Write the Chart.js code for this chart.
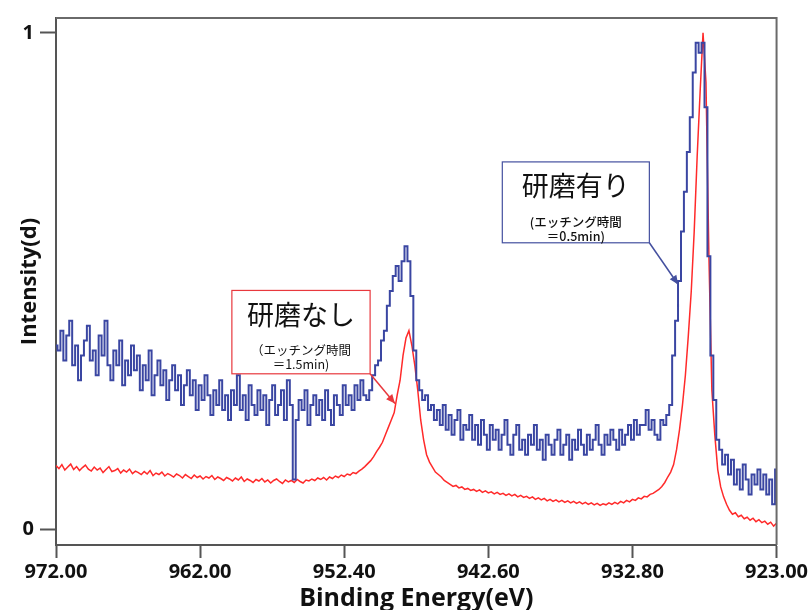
<!DOCTYPE html>
<html>
<head>
<meta charset="utf-8">
<script src="https://cdn.jsdelivr.net/npm/chart.js@4.4.1/dist/chart.umd.min.js"></script>
<style>
  html, body { margin: 0; padding: 0; background: #fff; overflow: hidden; }
  #wrap { width: 810px; height: 620px; }
</style>
</head>
<body>
<div id="wrap"><canvas id="c" width="810" height="620"></canvas></div>
<script>
// Energy grid of the scans (eV), from 972.0 down to 923.0
const START_EV = 972.0;
const STEP_EV = 0.2;

// Axis ticks
const tickPositions = [972.0, 962.2, 952.4, 942.6, 932.8, 923.0];
const tickLabels = ['972.00', '962.00', '952.40', '942.60', '932.80', '923.00'];
const intensityTicks = [0, 1];

// 研磨有り (etching 0.5 min), normalised intensity
const polished = [
  0.37,0.36,0.40,0.34,0.39,0.42,0.33,0.37,0.30,0.35,
  0.38,0.41,0.34,0.36,0.31,0.39,0.35,0.42,0.33,0.30,
  0.36,0.33,0.38,0.29,0.34,0.31,0.37,0.32,0.35,0.28,
  0.33,0.30,0.36,0.27,0.31,0.34,0.29,0.32,0.26,0.30,
  0.33,0.28,0.31,0.25,0.29,0.32,0.27,0.30,0.24,0.29,
  0.26,0.31,0.27,0.23,0.28,0.25,0.30,0.24,0.27,0.22,
  0.28,0.25,0.31,0.24,0.27,0.22,0.29,0.25,0.23,0.28,
  0.24,0.27,0.21,0.26,0.29,0.23,0.25,0.28,0.22,0.30,
  0.25,0.10,0.22,0.26,0.24,0.28,0.21,0.25,0.27,0.23,
  0.26,0.22,0.28,0.24,0.21,0.27,0.25,0.23,0.29,0.25,
  0.27,0.24,0.29,0.26,0.30,0.27,0.26,0.28,0.31,0.33,
  0.34,0.38,0.40,0.45,0.48,0.51,0.53,0.50,0.54,0.57,
  0.54,0.47,0.36,0.30,0.28,0.26,0.27,0.24,0.25,0.22,
  0.24,0.21,0.25,0.20,0.23,0.19,0.22,0.24,0.18,0.21,
  0.20,0.23,0.18,0.21,0.17,0.22,0.19,0.16,0.21,0.18,
  0.20,0.16,0.19,0.22,0.17,0.15,0.19,0.21,0.16,0.18,
  0.15,0.19,0.17,0.21,0.16,0.18,0.14,0.19,0.17,0.15,
  0.18,0.20,0.15,0.17,0.19,0.14,0.18,0.16,0.20,0.17,
  0.15,0.19,0.16,0.18,0.21,0.17,0.15,0.19,0.17,0.20,
  0.18,0.16,0.20,0.17,0.19,0.21,0.18,0.22,0.19,0.21,
  0.21,0.24,0.20,0.22,0.19,0.18,0.22,0.21,0.23,0.25,
  0.35,0.42,0.50,0.60,0.68,0.76,0.83,0.92,0.98,0.96,
  0.98,0.85,0.55,0.35,0.26,0.18,0.16,0.13,0.15,0.11,
  0.14,0.09,0.12,0.08,0.13,0.10,0.07,0.11,0.09,0.12,
  0.08,0.11,0.07,0.10,0.05,0.12
];

// 研磨なし (etching 1.5 min), normalised intensity
const unpolished = [
  0.128,0.122,0.130,0.119,0.125,0.131,0.120,0.126,0.118,0.124,
  0.129,0.121,0.117,0.125,0.119,0.123,0.114,0.120,0.126,0.116,
  0.118,0.122,0.113,0.119,0.115,0.121,0.112,0.117,0.114,0.110,
  0.116,0.111,0.118,0.108,0.113,0.110,0.115,0.107,0.112,0.109,
  0.105,0.111,0.108,0.103,0.110,0.106,0.102,0.109,0.104,0.107,
  0.101,0.106,0.103,0.108,0.100,0.105,0.102,0.098,0.104,0.101,
  0.097,0.103,0.099,0.105,0.096,0.101,0.098,0.094,0.100,0.097,
  0.102,0.095,0.099,0.093,0.098,0.101,0.096,0.092,0.099,0.095,
  0.098,0.094,0.100,0.096,0.093,0.099,0.097,0.101,0.098,0.103,
  0.100,0.104,0.099,0.105,0.102,0.107,0.104,0.109,0.106,0.111,
  0.109,0.114,0.112,0.117,0.121,0.126,0.132,0.138,0.146,0.156,
  0.165,0.175,0.190,0.205,0.220,0.235,0.270,0.300,0.350,0.385,
  0.400,0.370,0.330,0.280,0.220,0.180,0.150,0.135,0.125,0.115,
  0.110,0.105,0.098,0.094,0.090,0.086,0.088,0.083,0.085,0.080,
  0.082,0.078,0.080,0.076,0.079,0.074,0.077,0.073,0.075,0.071,
  0.074,0.070,0.072,0.068,0.071,0.067,0.070,0.065,0.068,0.064,
  0.066,0.062,0.065,0.060,0.063,0.059,0.062,0.057,0.060,0.056,
  0.059,0.055,0.058,0.054,0.057,0.053,0.056,0.052,0.055,0.051,
  0.054,0.050,0.053,0.049,0.052,0.048,0.051,0.049,0.053,0.050,
  0.054,0.051,0.056,0.053,0.058,0.055,0.060,0.058,0.063,0.061,
  0.066,0.065,0.070,0.072,0.076,0.080,0.086,0.094,0.105,0.115,
  0.130,0.160,0.200,0.250,0.310,0.390,0.480,0.600,0.750,0.880,
  1.000,0.900,0.550,0.280,0.190,0.120,0.085,0.065,0.050,0.038,
  0.030,0.033,0.025,0.028,0.021,0.024,0.018,0.022,0.015,0.019,
  0.013,0.016,0.010,0.014,0.006,0.012
];

const energies = polished.map((_, i) => +(START_EV - i * STEP_EV).toFixed(1));

// Callout boxes, anchored in data units (eV, intensity)
const callouts = [
  { title: '研磨なし', lines: ['（エッチング時間', '＝1.5min)'], color: '#e8383d',
    box: [960.04, 0.481, 950.64, 0.313], tip: [948.95, 0.253], subWeight: '400' },
  { title: '研磨有り', lines: ['(エッチング時間', '＝0.5min)'], color: '#44509f',
    box: [941.65, 0.740, 931.65, 0.577], tip: [929.69, 0.493], subWeight: '500' }
];

const CANVAS_H = 620;
const PLOT_LEFT = 56;
const PLOT_BOTTOM = 545;
const AXIS_COLOR = '#555';
const TEXT_COLOR = '#111';
const LATIN = '"Open Sans", "DejaVu Sans", sans-serif';
const CJK = '"Noto Sans CJK JP", "Noto Sans CJK SC", sans-serif';

const frameAndCallouts = {
  id: 'frameAndCallouts',
  afterDatasetsDraw(chart) {
    const { ctx, chartArea: a, scales: { x, y } } = chart;
    ctx.save();
    // top and right edges of the plot frame
    ctx.strokeStyle = '#6a6a6a';
    ctx.lineWidth = 2;
    ctx.beginPath();
    ctx.moveTo(a.left, a.top);
    ctx.lineTo(a.right, a.top);
    ctx.lineTo(a.right, a.bottom);
    ctx.stroke();

    callouts.forEach(c => {
      const x1 = x.getPixelForValue(c.box[0]);
      const y1 = y.getPixelForValue(c.box[1]);
      const x2 = x.getPixelForValue(c.box[2]);
      const y2 = y.getPixelForValue(c.box[3]);
      const tx = x.getPixelForValue(c.tip[0]);
      const ty = y.getPixelForValue(c.tip[1]);

      // pointer line with arrow head
      ctx.strokeStyle = c.color;
      ctx.fillStyle = c.color;
      ctx.lineWidth = 1.5;
      ctx.beginPath();
      ctx.moveTo(x2, y2);
      ctx.lineTo(tx, ty);
      ctx.stroke();
      const ang = Math.atan2(ty - y2, tx - x2);
      const L = 9, W = 4;
      ctx.beginPath();
      ctx.moveTo(tx, ty);
      ctx.lineTo(tx - L * Math.cos(ang) + W * Math.sin(ang), ty - L * Math.sin(ang) - W * Math.cos(ang));
      ctx.lineTo(tx - L * Math.cos(ang) - W * Math.sin(ang), ty - L * Math.sin(ang) + W * Math.cos(ang));
      ctx.closePath();
      ctx.fill();

      // box
      ctx.fillStyle = '#fff';
      ctx.fillRect(x1, y1, x2 - x1, y2 - y1);
      ctx.lineWidth = 1.2;
      ctx.strokeRect(x1, y1, x2 - x1, y2 - y1);

      // text
      const cx = (x1 + x2) / 2;
      ctx.fillStyle = TEXT_COLOR;
      ctx.textAlign = 'center';
      ctx.textBaseline = 'middle';
      ctx.font = '27px ' + CJK;
      ctx.fillText(c.title, cx, y1 + 24);
      ctx.font = c.subWeight + ' 12.5px ' + CJK;
      ctx.fillText(c.lines[0], cx, y1 + 60);
      ctx.fillText(c.lines[1], cx, y1 + 74);
    });
    ctx.restore();
  }
};

function draw() {
  new Chart(document.getElementById('c'), {
    type: 'line',
    data: {
      datasets: [
        {
          label: '研磨有り',
          data: energies.map((e, i) => ({ x: e, y: polished[i] })),
          borderColor: '#3a46a2',
          borderWidth: 2,
          pointRadius: 0,
          stepped: 'middle',
          fill: false
        },
        {
          label: '研磨なし',
          data: energies.map((e, i) => ({ x: e, y: unpolished[i] })),
          borderColor: '#ff2a2a',
          borderWidth: 1.5,
          pointRadius: 0,
          tension: 0,
          fill: false
        }
      ]
    },
    options: {
      responsive: false,
      animation: false,
      devicePixelRatio: 1,
      layout: { padding: { top: 13, right: 29, left: 0, bottom: 0 } },
      plugins: { legend: { display: false }, tooltip: { enabled: false } },
      scales: {
        x: {
          type: 'linear',
          min: 923,
          max: 972,
          reverse: true,
          afterBuildTicks: s => { s.ticks = tickPositions.map(v => ({ value: v })); },
          afterFit: s => { s.height = CANVAS_H - PLOT_BOTTOM; },
          grid: { drawOnChartArea: false, drawTicks: true, tickLength: 13, tickWidth: 2, tickColor: AXIS_COLOR },
          border: { display: true, color: AXIS_COLOR, width: 2 },
          ticks: {
            color: TEXT_COLOR,
            font: { family: LATIN, size: 20, weight: '700' },
            padding: 2,
            maxRotation: 0,
            autoSkip: false,
            callback: (v, i) => tickLabels[i]
          },
          title: {
            display: true,
            text: 'Binding Energy(eV)',
            color: TEXT_COLOR,
            font: { family: LATIN, size: 25, weight: '700' },
            padding: { top: 0, bottom: 6 }
          }
        },
        y: {
          type: 'linear',
          min: -0.032,
          max: 1.03,
          afterBuildTicks: s => { s.ticks = intensityTicks.map(v => ({ value: v })); },
          afterFit: s => { s.width = PLOT_LEFT; },
          grid: { drawOnChartArea: false, drawTicks: true, tickLength: 16, tickWidth: 2, tickColor: AXIS_COLOR },
          border: { display: true, color: AXIS_COLOR, width: 2 },
          ticks: {
            color: TEXT_COLOR,
            font: { family: LATIN, size: 20, weight: '700' },
            padding: 6,
            callback: v => String(v)
          },
          title: {
            display: true,
            text: 'Intensity(d)',
            color: TEXT_COLOR,
            font: { family: LATIN, size: 22, weight: '700' },
            padding: { top: 17, bottom: 0 }
          }
        }
      }
    },
    plugins: [frameAndCallouts]
  });
}

Promise.all([
  document.fonts.load('700 20px "Open Sans"'),
  document.fonts.load('27px "Noto Sans CJK JP"')
]).then(draw, draw);
</script>
</body>
</html>
